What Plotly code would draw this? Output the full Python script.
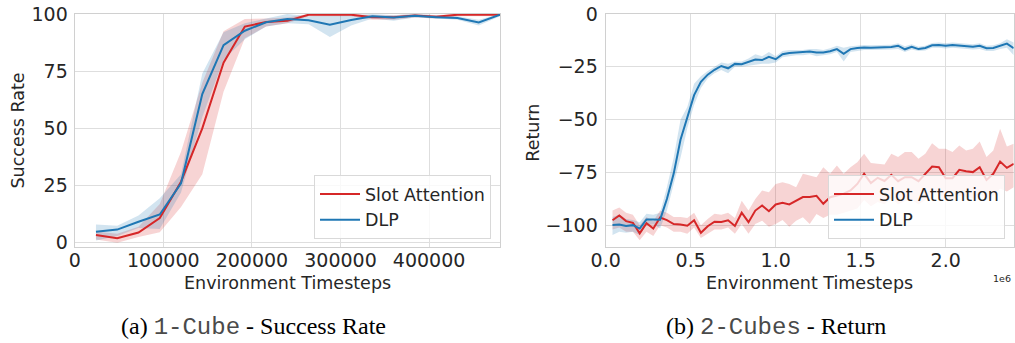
import plotly.graph_objects as go

# ---------------- data: (a) 1-Cube - Success Rate ----------------
steps_a = [24000, 48000, 72000, 96000, 120000, 144000, 168000, 192000, 216000, 240000,
           264000, 288000, 312000, 336000, 360000, 384000, 408000, 432000, 456000, 480000]
sa_mean_a = [3.4, 2.0, 4.5, 10.8, 26.7, 50.0, 78.7, 94.5, 96.5, 97.0,
             99.7, 99.7, 99.7, 98.6, 98.6, 99.3, 98.8, 99.7, 99.7, 99.7]
sa_lo_a = [1.5, 0.0, 2.5, 4.6, 15.7, 30.0, 66.0, 89.4, 94.5, 96.0,
           99.0, 99.0, 99.0, 97.5, 97.5, 98.5, 98.0, 99.0, 99.0, 99.0]
sa_hi_a = [5.0, 4.0, 7.0, 17.0, 39.8, 70.0, 92.5, 97.8, 98.0, 98.5,
           100.0, 100.0, 100.0, 99.5, 99.5, 100.0, 99.5, 100.0, 100.0, 100.0]
dlp_mean_a = [4.8, 5.8, 9.2, 12.4, 26.0, 65.0, 86.4, 92.7, 96.4, 97.8,
              97.3, 95.3, 97.4, 99.0, 98.5, 99.2, 98.6, 98.2, 96.3, 99.7]
dlp_lo_a = [1.0, 3.0, 6.5, 6.0, 22.0, 55.0, 80.0, 89.0, 94.5, 96.0,
            95.5, 90.0, 95.0, 98.0, 97.0, 98.5, 98.0, 97.5, 95.0, 99.0]
dlp_hi_a = [8.0, 7.5, 12.0, 19.5, 30.0, 74.0, 92.0, 96.0, 98.0, 100.0,
            99.0, 99.5, 99.5, 100.0, 99.5, 100.0, 99.5, 99.0, 97.5, 100.0]
xticks_a = [0, 100000, 200000, 300000, 400000]
xtick_text_a = ["0", "100000", "200000", "300000", "400000"]
yticks_a = [0, 25, 50, 75, 100]
ytick_text_a = ["0", "25", "50", "75", "100"]

# ---------------- data: (b) 2-Cubes - Return ----------------
steps_b = [40000, 80000, 120000, 160000, 200000, 240000, 280000, 320000, 360000, 400000,
           440000, 480000, 520000, 560000, 600000, 640000, 680000, 720000, 760000, 800000,
           840000, 880000, 920000, 960000, 1000000, 1040000, 1080000, 1120000, 1160000, 1200000,
           1240000, 1280000, 1320000, 1360000, 1400000, 1440000, 1480000, 1520000, 1560000, 1600000,
           1640000, 1680000, 1720000, 1760000, 1800000, 1840000, 1880000, 1920000, 1960000, 2000000,
           2040000, 2080000, 2120000, 2160000, 2200000, 2240000, 2280000, 2320000, 2360000, 2400000]
sa_mean_b = [-97.6, -95.3, -98.0, -98.8, -103.8, -99.0, -101.5, -96.3, -97.5, -99.4,
             -99.6, -100.2, -97.6, -103.5, -100.4, -98.3, -98.4, -97.6, -100.3, -94.0,
             -98.5, -93.0, -90.6, -93.3, -90.1, -89.3, -90.1, -88.2, -86.6, -86.6,
             -86.0, -89.8, -86.7, -85.9, -85.0, -83.5, -80.4, -75.6, -80.0, -77.5,
             -79.0, -76.1, -79.1, -77.2, -77.2, -79.1, -75.6, -72.2, -72.5, -77.7,
             -77.7, -73.7, -74.4, -74.8, -72.5, -78.5, -75.6, -69.8, -72.8, -70.9]
sa_lo_b = [-102, -101, -103, -103, -107, -103, -105, -100, -101, -103,
           -103, -104, -101, -106, -104, -102, -102, -101, -104, -99.4,
           -104, -99.4, -97.8, -100.6, -99.4, -97.5, -100.6, -97.8, -96.2, -99.4,
           -94.6, -96.5, -95, -95, -94, -93, -92, -88, -91, -89,
           -90, -87, -90, -88.5, -88, -90, -88, -84, -85, -88.5,
           -88.5, -86, -86.5, -87, -85, -88, -86, -82.5, -84, -82]
sa_hi_b = [-93, -91.5, -94, -95, -100, -96, -98, -93, -94, -96,
           -96, -96.5, -94, -100, -97, -94.5, -95, -94, -96.5, -88.3,
           -93, -87.5, -83.5, -84.3, -80.4, -79.6, -80.4, -82, -75.6, -76.4,
           -77.2, -72.5, -75.6, -71.7, -75.6, -72.5, -70.1, -66.1, -70.5, -70.9,
           -71.2, -66.1, -67.7, -65.3, -65.3, -68.5, -66.1, -61.1, -63.8, -63.8,
           -65.3, -62.2, -64.6, -63.8, -60.3, -67.7, -64.6, -54.3, -62.7, -61.4]
dlp_mean_b = [-99.8, -99.6, -100.3, -99.9, -101.5, -97.2, -97.2, -97.3, -87.5, -75.5,
              -59.5, -48.7, -38.4, -32.1, -28.7, -26.4, -24.6, -25.7, -23.6, -23.8,
              -22.6, -21.5, -21.8, -20.3, -21.4, -19.0, -18.5, -18.2, -18.2, -17.7,
              -18.2, -18.2, -17.6, -16.6, -18.8, -16.6, -16.1, -15.8, -16.0, -15.8,
              -15.6, -15.6, -15.0, -16.7, -15.5, -16.6, -16.1, -14.8, -14.7, -15.0,
              -14.7, -15.0, -15.0, -15.5, -15.0, -16.2, -16.1, -15.1, -14.0, -16.2]
dlp_lo_b = [-104.5, -103, -103.5, -103, -104.5, -100, -99.5, -101.5, -93, -81,
            -68, -54, -43, -35, -30.5, -28, -26.5, -28, -25, -25,
            -24.5, -24, -23.5, -23.5, -23, -20.5, -20, -19.5, -19.5, -19,
            -20, -19.5, -19, -18, -22.5, -18, -17.5, -17, -17, -17,
            -16.8, -16.8, -16.5, -18, -16.8, -17.5, -17.3, -16, -16, -16.3,
            -16, -16.3, -16.3, -16.8, -16.5, -17.5, -17.5, -16.5, -16, -19.5]
dlp_hi_b = [-96, -95, -97, -97.5, -98.5, -94.5, -95, -94, -82, -68,
            -50, -44, -33, -29.5, -27, -25, -23, -23.5, -22.5, -22.5,
            -21, -19, -20, -18, -20, -17.5, -17, -17, -17, -16.5,
            -16.5, -17, -16.2, -15, -16, -15.3, -15, -14.7, -14.8, -14.6,
            -14.5, -14.5, -13.8, -15.3, -14.3, -15.5, -15, -13.7, -13.5, -13.8,
            -13.5, -13.8, -13.8, -14.3, -13.8, -15, -14.8, -13.8, -12, -13.5]
xticks_b = [0, 500000, 1000000, 1500000, 2000000]
xtick_text_b = ["0.0", "0.5", "1.0", "1.5", "2.0"]
yticks_b = [0, -25, -50, -75, -100]
ytick_text_b = ["0", "\u221225", "\u221250", "\u221275", "\u2212100"]

series_names = ["Slot Attention", "DLP"]

# ---------------- style ----------------
RED = "#d62728"
BLUE = "#1f77b4"
RED_FILL = "rgba(214,39,40,0.2)"
BLUE_FILL = "rgba(31,119,180,0.2)"
TXT = "#262626"
GRID = "#dedede"
FONT = "DejaVu Sans"
W, H = 1015, 343

fig = go.Figure()


def add_band(x, lo, hi, fill, xa, ya):
    fig.add_trace(go.Scatter(x=x, y=lo, mode="lines", line=dict(width=0, color=fill),
                             hoverinfo="skip", showlegend=False, xaxis=xa, yaxis=ya))
    fig.add_trace(go.Scatter(x=x, y=hi, mode="lines", line=dict(width=0, color=fill),
                             fill="tonexty", fillcolor=fill, hoverinfo="skip",
                             showlegend=False, xaxis=xa, yaxis=ya))


def add_line(x, y, name, color, xa, ya, legend):
    fig.add_trace(go.Scatter(x=x, y=y, mode="lines", name=name,
                             line=dict(color=color, width=2), xaxis=xa, yaxis=ya,
                             legend=legend))


# panel (a)
add_band(steps_a, sa_lo_a, sa_hi_a, RED_FILL, "x", "y")
add_band(steps_a, dlp_lo_a, dlp_hi_a, BLUE_FILL, "x", "y")
add_line(steps_a, sa_mean_a, series_names[0], RED, "x", "y", "legend")
add_line(steps_a, dlp_mean_a, series_names[1], BLUE, "x", "y", "legend")

# panel (b)
add_band(steps_b, sa_lo_b, sa_hi_b, RED_FILL, "x2", "y2")
add_band(steps_b, dlp_lo_b, dlp_hi_b, BLUE_FILL, "x2", "y2")
add_line(steps_b, sa_mean_b, series_names[0], RED, "x2", "y2", "legend2")
add_line(steps_b, dlp_mean_b, series_names[1], BLUE, "x2", "y2", "legend2")

ydom = [1 - 246.5 / H, 1 - 14 / H]
axis_common = dict(showgrid=True, gridcolor=GRID, gridwidth=1, showline=True, mirror=True,
                   linecolor="#d0d0d0", linewidth=1.2, zeroline=False, ticks="",
                   automargin=False,
                   tickfont=dict(family=FONT, size=19, color=TXT))

legend_common = dict(bgcolor="rgba(255,255,255,0.8)", bordercolor="#d9d9d9", borderwidth=1,
                     font=dict(family=FONT, size=17.5, color=TXT), xanchor="right",
                     yanchor="bottom", tracegroupgap=0, itemwidth=40, traceorder="normal")

fig.update_layout(
    width=W, height=H, autosize=False,
    margin=dict(l=0, r=0, t=0, b=0, autoexpand=False),
    paper_bgcolor="white", plot_bgcolor="white",
    font=dict(family=FONT, color=TXT),
    showlegend=True,
    xaxis=dict(domain=[74.7 / W, 500 / W], range=[0, 480000], anchor="y",
               tickvals=xticks_a, ticktext=xtick_text_a, ticklabelstandoff=-3, **axis_common),
    yaxis=dict(domain=ydom, range=[-1.6, 100], anchor="x",
               tickvals=yticks_a, ticktext=ytick_text_a, ticklabelstandoff=2, **axis_common),
    xaxis2=dict(domain=[605.7 / W, 1013.7 / W], range=[0, 2400000], anchor="y2",
                tickvals=xticks_b, ticktext=xtick_text_b, ticklabelstandoff=-3, **axis_common),
    yaxis2=dict(domain=ydom, range=[-110, 0], anchor="x2",
                tickvals=yticks_b, ticktext=ytick_text_b, ticklabelstandoff=3, **axis_common),
    legend=dict(x=491 / W, y=1 - 239 / H, **legend_common),
    legend2=dict(x=1005 / W, y=1 - 239 / H, **legend_common),
)

ann = []
title_font = dict(family=FONT, size=17.5, color=TXT)
ann.append(dict(text="Environment Timesteps", x=287 / W, y=1 - 283 / H, xref="paper", yref="paper",
                showarrow=False, font=title_font, xanchor="center", yanchor="middle"))
ann.append(dict(text="Environment Timesteps", x=809 / W, y=1 - 283 / H, xref="paper", yref="paper",
                showarrow=False, font=title_font, xanchor="center", yanchor="middle"))
ann.append(dict(text="Success Rate", x=17 / W, y=1 - 130.5 / H, xref="paper", yref="paper",
                showarrow=False, font=title_font, textangle=-90, xanchor="center", yanchor="middle"))
ann.append(dict(text="Return", x=533.3 / W, y=1 - 132.4 / H, xref="paper", yref="paper",
                showarrow=False, font=title_font, textangle=-90, xanchor="center", yanchor="middle"))
ann.append(dict(text="1e6", x=1013 / W, y=1 - 278 / H, xref="paper", yref="paper",
                showarrow=False, font=dict(family=FONT, size=9.5, color=TXT),
                xanchor="right", yanchor="middle"))
cap_font = dict(family="Liberation Serif", size=24, color="black")
mono = "<span style='font-family:Liberation Mono;color:#4a4a4a'>"
ann.append(dict(text="(a) " + mono + "1-Cube</span> - Success Rate", x=253 / W, y=1 - 327 / H,
                xref="paper", yref="paper", showarrow=False, font=cap_font,
                xanchor="center", yanchor="middle"))
ann.append(dict(text="(b) " + mono + "2-Cubes</span> - Return", x=776 / W, y=1 - 327 / H,
                xref="paper", yref="paper", showarrow=False, font=cap_font,
                xanchor="center", yanchor="middle"))
fig.update_layout(annotations=ann)

fig.write_html("out.html", config={"displayModeBar": False},
               post_script="document.body.style.margin='0';document.body.style.overflow='hidden';")
